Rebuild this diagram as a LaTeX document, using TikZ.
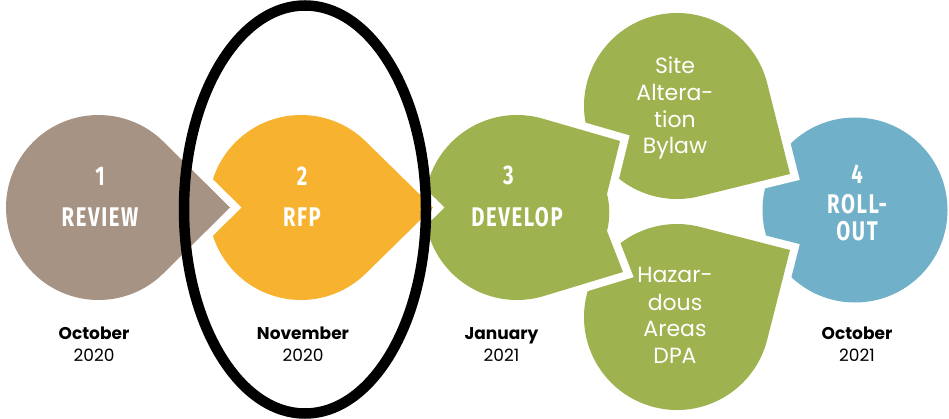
\documentclass[tikz,border=0pt]{standalone}
\usepackage{fontspec}
\setmainfont{Poppins}
\newfontfamily\headfont[FakeStretch=0.75,LetterSpace=6]{Fira Sans}
\usetikzlibrary{calc}
\definecolor{cbrown}{HTML}{A69383}
\definecolor{corange}{HTML}{F7B32F}
\definecolor{cgreen}{HTML}{9EB34F}
\definecolor{cblue}{HTML}{70B0C8}
\tikzset{
  halo/.style={preaction={draw=white, line width=16pt, line join=miter}},
  ttl/.style={font=\headfont\bfseries\fontsize{27}{30}\selectfont, text=white, inner sep=0pt},
  sub/.style={font=\fontsize{22}{26}\selectfont, text=white, inner sep=0pt, anchor=base},
  mon/.style={font=\bfseries\fontsize{17}{20}\selectfont, inner sep=0pt, anchor=base},
  yr/.style={font=\fontsize{17}{20}\selectfont, inner sep=0pt, anchor=base},
  ring/.style={draw=black, line width=10.5pt}
}
% teardrop: #1 colour, #2 cx, #3 cy, #4 radius, #5 tip x, #6 tip y
\newcommand\tdshape[6]{%
  \pgfmathsetmacro\tdPhi{atan2(#6-#3,#5-#2)}%
  \pgfmathsetmacro\tdDist{veclen(#5-#2,#6-#3)}%
  \pgfmathsetmacro\tdAl{acos(#4/\tdDist)}%
  \pgfmathsetmacro\tdS{\tdPhi+\tdAl}%
  \pgfmathsetmacro\tdE{\tdPhi-\tdAl+360}%
  \path[halo, fill=#1] (#5,#6) -- ($(#2,#3)+(\tdS:#4)$)
    arc[start angle=\tdS, end angle=\tdE, radius=#4] -- cycle;
}
\begin{document}
\begin{tikzpicture}[x=1pt,y=-1pt]
\useasboundingbox (0,0) rectangle (949,419);
\fill[white] (0,0) rectangle (949,419);
% 4 roll-out
\path[fill=cblue] (855,210) circle[radius=92.5];
% 3a and 3b
\tdshape{cgreen}{677}{106}{93}{790}{174}
\tdshape{cgreen}{677}{317}{93}{790}{250}
% 3 develop
\path[halo, fill=cgreen] (620,141) -- ($(517,207.5)+(-73.85:92.5)$)
  arc[start angle=-73.85, end angle=-286.9, radius=92.5]
  -- (623,272) -- (607,231) .. controls (610,220) and (610,205) .. (607,194) -- cycle;
% 2 rfp
\tdshape{corange}{301}{207.5}{92.5}{433}{207.5}
% 1 review
\tdshape{cbrown}{98.5}{207.5}{92.5}{230}{207.5}
% ring
\draw[ring] (305,209.5) ellipse[x radius=121, y radius=204];
% titles
\node[ttl] (n1) at (100,176) {1};
\node[ttl] (t1) at (100,217) {REVIEW};
\node[ttl] (n2) at (302,176) {2};
\node[ttl] (t2) at (302,217.5) {RFP};
\node[ttl] (n3) at (508.5,175) {3};
\node[ttl] (t3) at (517,217.5) {DEVELOP};
\node[ttl] (n4) at (857,174) {4};
\node[ttl] (t4a) at (857,204) {ROLL-};
\node[ttl] (t4b) at (857,231.5) {OUT};
% sub items
\node[sub] (a1) at (675,74) {Site};
\node[sub] (a2) at (675,101) {Altera-};
\node[sub] (a3) at (675,128) {tion};
\node[sub] (a4) at (675,154) {Bylaw};
\node[sub] (b1) at (675,283) {Hazar-};
\node[sub] (b2) at (675,310) {dous};
\node[sub] (b3) at (675,336) {Areas};
\node[sub] (b4) at (675,363) {DPA};
% dates
\node[mon] (m1) at (94,339) {October};
\node[yr] (y1) at (94,361) {2020};
\node[mon] (m2) at (303,339) {November};
\node[yr] (y2) at (303,361) {2020};
\node[mon] (m3) at (501.5,339) {January};
\node[yr] (y3) at (501.5,361) {2021};
\node[mon] (m4) at (857,339) {October};
\node[yr] (y4) at (857,361) {2021};
\end{tikzpicture}
\end{document}
